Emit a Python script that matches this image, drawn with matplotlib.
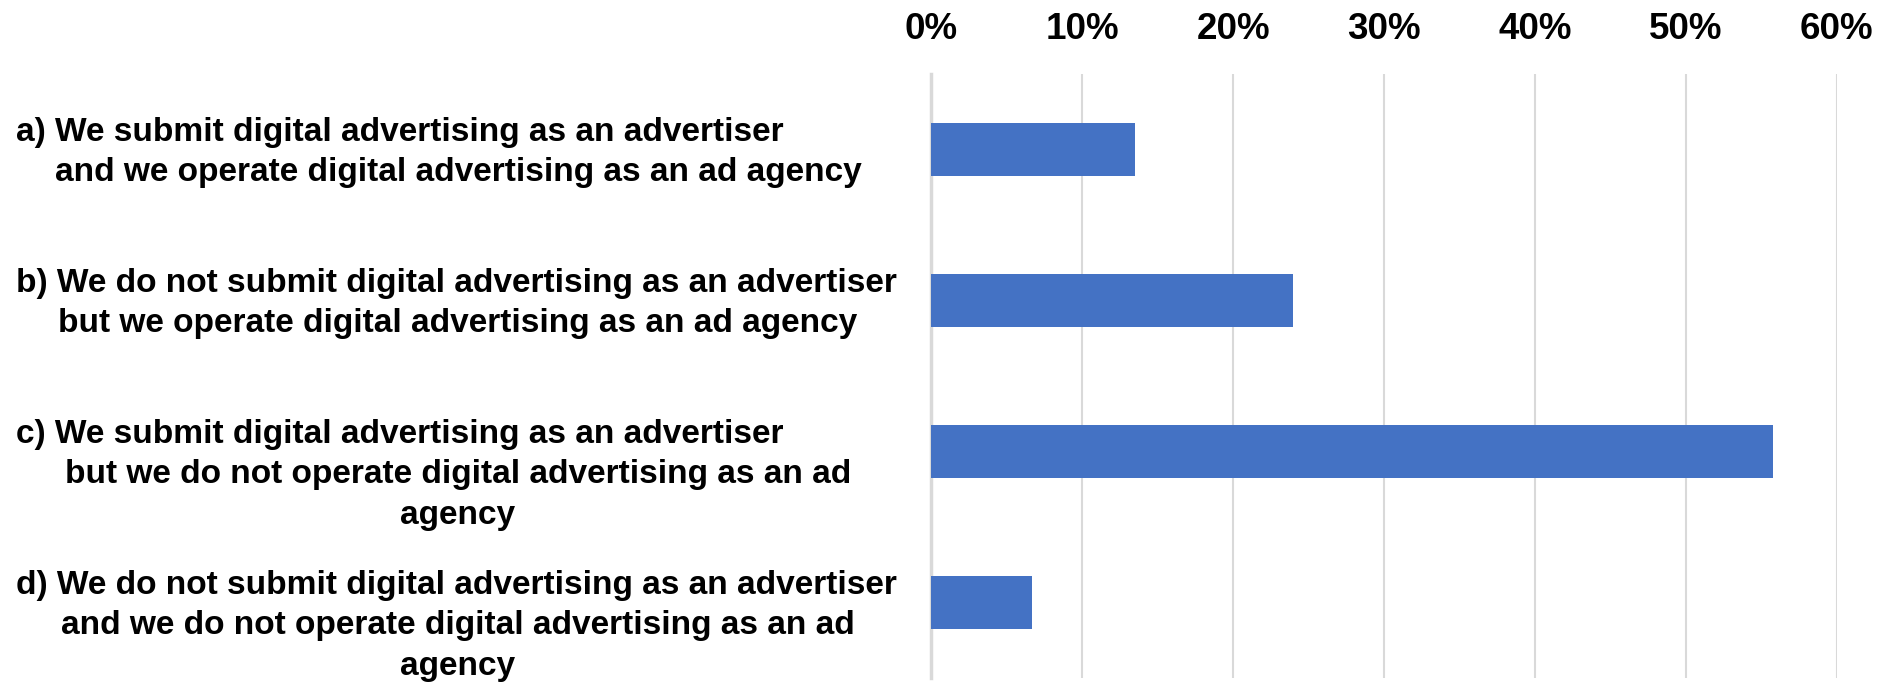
import matplotlib.pyplot as plt
import matplotlib.transforms as mtransforms
from matplotlib.ticker import PercentFormatter

# survey answers and share of respondents
answers = [
    "a) We submit digital advertising as an advertiser\n"
    "and we operate digital advertising as an ad agency",
    "b) We do not submit digital advertising as an advertiser\n"
    "but we operate digital advertising as an ad agency",
    "c) We submit digital advertising as an advertiser\n"
    "but we do not operate digital advertising as an ad\n"
    "agency",
    "d) We do not submit digital advertising as an advertiser\n"
    "and we do not operate digital advertising as an ad\n"
    "agency",
]
shares = [0.135, 0.240, 0.558, 0.067]
xticks = [0.0, 0.1, 0.2, 0.3, 0.4, 0.5, 0.6]

BLUE = "#4472C4"
GRID = "#D9D9D9"
FONT = "Liberation Sans"


def main():
    fig = plt.figure(figsize=(18.9, 6.82), dpi=100)
    ax = fig.add_axes([0.4928, 0.0062, 0.9717 - 0.4928, 0.8918 - 0.0062])

    pos = list(range(len(answers)))
    ax.barh(pos, shares, height=0.353, color=BLUE, zorder=3)

    ax.set_xlim(0, 0.6)
    ax.set_ylim(len(answers) - 0.5, -0.5)
    ax.set_xticks(xticks)
    ax.xaxis.set_major_formatter(PercentFormatter(1.0, decimals=0))
    ax.xaxis.tick_top()
    ax.tick_params(axis="x", length=0, pad=19.5)
    for lab in ax.get_xticklabels():
        lab.set_fontsize(26.5)
        lab.set_fontweight("bold")
        lab.set_fontfamily(FONT)
    ax.set_yticks([])

    ax.grid(axis="x", color=GRID, linewidth=1.5, zorder=0)
    for side in ["top", "right", "bottom"]:
        ax.spines[side].set_visible(False)
    ax.spines["left"].set_color(GRID)
    ax.spines["left"].set_linewidth(2.5)

    # category labels: first line flush left, the rest centred under it
    trans = mtransforms.blended_transform_factory(fig.transFigure, ax.transData)
    step = 29.1  # points between lines
    for i, text in enumerate(answers):
        lines = text.split("\n")
        first = -(min(len(lines), 2) - 1) / 2 * step
        for j, line in enumerate(lines):
            off = mtransforms.offset_copy(trans, fig=fig, x=0, y=-(first + j * step), units="points")
            if j == 0:
                x, ha = 16 / 1890, "left"
            else:
                x, ha = 458 / 1890, "center"
            ax.text(x, i, line, transform=off, ha=ha, va="center_baseline",
                    fontsize=24.1, fontweight="bold", fontfamily=FONT)

    fig.savefig("out.png", dpi=100)


if __name__ == '__main__':
    main()
